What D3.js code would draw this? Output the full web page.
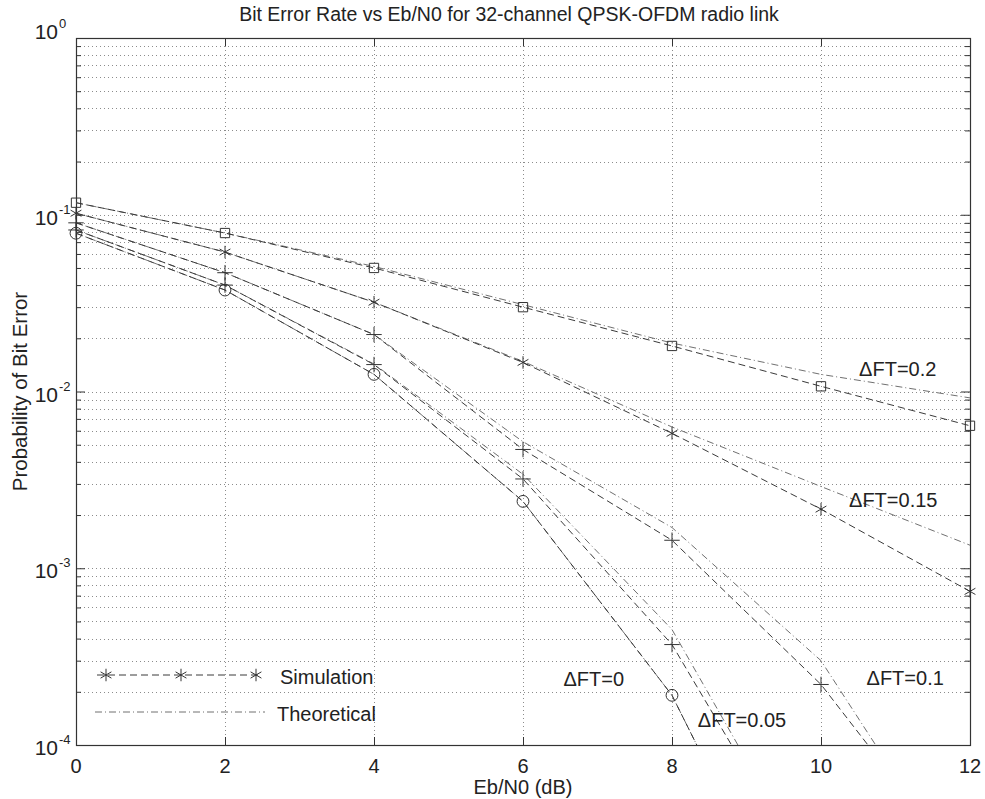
<!DOCTYPE html>
<html>
<head>
<meta charset="utf-8">
<script src="https://cdn.jsdelivr.net/npm/d3@7"></script>
<style>
  body { margin: 0; background: #fff; }
  svg text { font-family: "Liberation Sans", Arial, sans-serif; fill: #222; }
</style>
</head>
<body>
<div id="chartArea"></div>
<script>
// data
const ebn0 = [0, 2, 4, 6, 8, 10, 12];

// simulation (markers, dashed)
const simFT0   = [0.0786, 0.0375, 0.0125, 0.00239, 0.000191, 0.0000039, 0.00000001];
const simFT005 = [0.082, 0.040, 0.0142, 0.0032, 0.00037, 0.000014, 0.0000002];
const simFT01  = [0.090, 0.047, 0.021, 0.0047, 0.00144, 0.00022, 0.000018];
const simFT015 = [0.102, 0.0615, 0.032, 0.0146, 0.0058, 0.00216, 0.00074];
const simFT02  = [0.117, 0.0788, 0.050, 0.030, 0.0181, 0.0107, 0.0064];

// theoretical (dash-dot)
const thFT0   = [0.0786, 0.0375, 0.0125, 0.00239, 0.000191, 0.0000039, 0.00000001];
const thFT005 = [0.082, 0.040, 0.0143, 0.0034, 0.00045, 0.000015, 0.0000001];
const thFT01  = [0.090, 0.047, 0.021, 0.0052, 0.0017, 0.0003, 0.000015];
const thFT015 = [0.102, 0.0615, 0.032, 0.0148, 0.0063, 0.0029, 0.00135];
const thFT02  = [0.117, 0.0788, 0.051, 0.031, 0.0188, 0.0125, 0.0092];

const xTicks = [0, 2, 4, 6, 8, 10, 12];
const yTicks = [1, 0.1, 0.01, 0.001, 0.0001];
const yTickExp = ["0", "-1", "-2", "-3", "-4"];

const curveLabels = ["\u0394FT=0.2", "\u0394FT=0.15", "\u0394FT=0.1", "\u0394FT=0", "\u0394FT=0.05"];
const curveLabelX = [11.03, 10.97, 11.13, 6.95, 8.94];
const curveLabelY = [0.0122, 0.00222, 0.000219, 0.000215, 0.000126];

const series = [
  { sim: simFT0,   th: thFT0,   marker: d3.symbolCircle, size: 110 },
  { sim: simFT005, th: thFT005, marker: d3.symbolPlus,   size: 80 },
  { sim: simFT01,  th: thFT01,  marker: d3.symbolPlus,   size: 80 },
  { sim: simFT015, th: thFT015, marker: d3.symbolAsterisk, size: 110 },
  { sim: simFT02,  th: thFT02,  marker: d3.symbolSquare2,  size: 110 }
];

const W = 985, H = 799;
const pLeft = 76, pRight = 970, pTop = 38, pBottom = 745;

const svg = d3.select("#chartArea").append("svg")
  .attr("width", W)
  .attr("height", H);

const x = d3.scaleLinear().domain([0, 12]).range([pLeft, pRight]);
const y = d3.scaleLog().domain([1e-4, 1]).range([pBottom, pTop]);

svg.append("defs").append("clipPath").attr("id", "plotClip")
  .append("rect")
  .attr("x", pLeft).attr("y", pTop)
  .attr("width", pRight - pLeft).attr("height", pBottom - pTop);

// grid
const minorY = [];
[1e-4, 1e-3, 1e-2, 1e-1].forEach(d => { for (let k = 1; k < 10; k++) minorY.push(d * k); });
minorY.push(1);

const grid = svg.append("g").attr("stroke", "#8c8c8c").attr("stroke-width", 1)
  .attr("stroke-dasharray", "1,3");
grid.selectAll("line.gy").data(minorY.filter(v => v > 1.01e-4 && v < 0.99)).enter()
  .append("line").attr("class", "gy")
  .attr("x1", pLeft).attr("x2", pRight)
  .attr("y1", d => Math.round(y(d)) + 0.5).attr("y2", d => Math.round(y(d)) + 0.5);
grid.selectAll("line.gx").data(xTicks.slice(1, -1)).enter()
  .append("line").attr("class", "gx")
  .attr("y1", pTop).attr("y2", pBottom)
  .attr("x1", d => Math.round(x(d)) + 0.5).attr("x2", d => Math.round(x(d)) + 0.5);

// frame + ticks
svg.append("rect")
  .attr("x", pLeft + 0.5).attr("y", pTop + 0.5)
  .attr("width", pRight - pLeft).attr("height", pBottom - pTop)
  .attr("fill", "none").attr("stroke", "#333").attr("stroke-width", 1.2);

svg.append("g").attr("transform", `translate(0,${pBottom})`)
  .call(d3.axisBottom(x).tickValues(xTicks).tickSize(-8).tickFormat(""))
  .call(g => g.select(".domain").remove());
svg.append("g").attr("transform", `translate(0,${pTop})`)
  .call(d3.axisTop(x).tickValues(xTicks).tickSize(-8).tickFormat(""))
  .call(g => g.select(".domain").remove());

const yMinor = minorY.filter(v => !yTicks.some(t => Math.abs(t - v) / t < 1e-6));
svg.append("g").attr("transform", `translate(${pLeft},0)`)
  .call(d3.axisLeft(y).tickValues(yMinor).tickSize(-5).tickFormat(""))
  .call(g => g.select(".domain").remove());
svg.append("g").attr("transform", `translate(${pLeft},0)`)
  .call(d3.axisLeft(y).tickValues(yTicks).tickSize(-9).tickFormat(""))
  .call(g => g.select(".domain").remove());
svg.append("g").attr("transform", `translate(${pRight},0)`)
  .call(d3.axisRight(y).tickValues(yMinor).tickSize(-5).tickFormat(""))
  .call(g => g.select(".domain").remove());
svg.append("g").attr("transform", `translate(${pRight},0)`)
  .call(d3.axisRight(y).tickValues(yTicks).tickSize(-9).tickFormat(""))
  .call(g => g.select(".domain").remove());
svg.selectAll(".tick line").attr("stroke", "#333");

// tick labels
svg.selectAll("text.xt").data(xTicks).enter().append("text")
  .attr("class", "xt")
  .attr("x", d => x(d)).attr("y", pBottom + 28)
  .attr("text-anchor", "middle").attr("font-size", 20)
  .text(d => d);

const yl = svg.selectAll("g.yl").data(yTicks).enter().append("g").attr("class", "yl")
  .attr("transform", (d, i) => `translate(58,${y(d) + (i === 0 ? 1 : 10)})`);
yl.append("text").attr("text-anchor", "end").attr("font-size", 21).text("10");
yl.append("text").attr("x", 1).attr("y", -11).attr("font-size", 13)
  .text((d, i) => yTickExp[i]);

// curves
const plot = svg.append("g").attr("clip-path", "url(#plotClip)");
const line = d3.line().x((d, i) => x(ebn0[i])).y(d => y(d));

series.forEach(s => {
  plot.append("path").datum(s.th)
    .attr("d", line).attr("fill", "none")
    .attr("stroke", "#707070").attr("stroke-width", 1)
    .attr("stroke-dasharray", "7,3,1,3");
  plot.append("path").datum(s.sim)
    .attr("d", line).attr("fill", "none")
    .attr("stroke", "#3a3a3a").attr("stroke-width", 1)
    .attr("stroke-dasharray", "7,4");
});

// markers (not clipped at the frame, only dropped when below the axis range)
series.forEach(s => {
  svg.selectAll(null).data(s.sim.map((v, i) => [ebn0[i], v]).filter(p => p[1] >= 1e-4)).enter()
    .append("path")
    .attr("d", d3.symbol().type(s.marker).size(s.size))
    .attr("transform", d => `translate(${x(d[0])},${y(d[1])})`)
    .attr("fill", "none").attr("stroke", "#333").attr("stroke-width", 1);
});

// curve labels
svg.selectAll("text.cl").data(curveLabels).enter().append("text")
  .attr("class", "cl")
  .attr("x", (d, i) => x(curveLabelX[i])).attr("y", (d, i) => y(curveLabelY[i]))
  .attr("text-anchor", "middle").attr("font-size", 20)
  .text(d => d);

// legend
const lgX = [106, 181, 256];
svg.append("line")
  .attr("x1", 97).attr("x2", 262).attr("y1", 675).attr("y2", 675)
  .attr("stroke", "#3a3a3a").attr("stroke-dasharray", "7,4");
svg.selectAll("path.lgm").data(lgX).enter().append("path").attr("class", "lgm")
  .attr("d", d3.symbol().type(d3.symbolAsterisk).size(110))
  .attr("transform", d => `translate(${d},675)`)
  .attr("fill", "none").attr("stroke", "#333");
svg.append("text").attr("x", 280).attr("y", 684).attr("font-size", 20).text("Simulation");
svg.append("line")
  .attr("x1", 95).attr("x2", 265).attr("y1", 712).attr("y2", 712)
  .attr("stroke", "#707070").attr("stroke-dasharray", "7,3,1,3");
svg.append("text").attr("x", 277).attr("y", 721).attr("font-size", 20).text("Theoretical");

// titles
svg.append("text").attr("x", 509).attr("y", 21)
  .attr("text-anchor", "middle").attr("font-size", 19.5)
  .text("Bit Error Rate vs Eb/N0 for 32-channel QPSK-OFDM radio link");
svg.append("text").attr("x", x(6)).attr("y", 794)
  .attr("text-anchor", "middle").attr("font-size", 20)
  .text("Eb/N0 (dB)");
svg.append("text")
  .attr("transform", `translate(27,${(pTop + pBottom) / 2}) rotate(-90)`)
  .attr("text-anchor", "middle").attr("font-size", 20.5)
  .text("Probability of Bit Error");
</script>
</body>
</html>
